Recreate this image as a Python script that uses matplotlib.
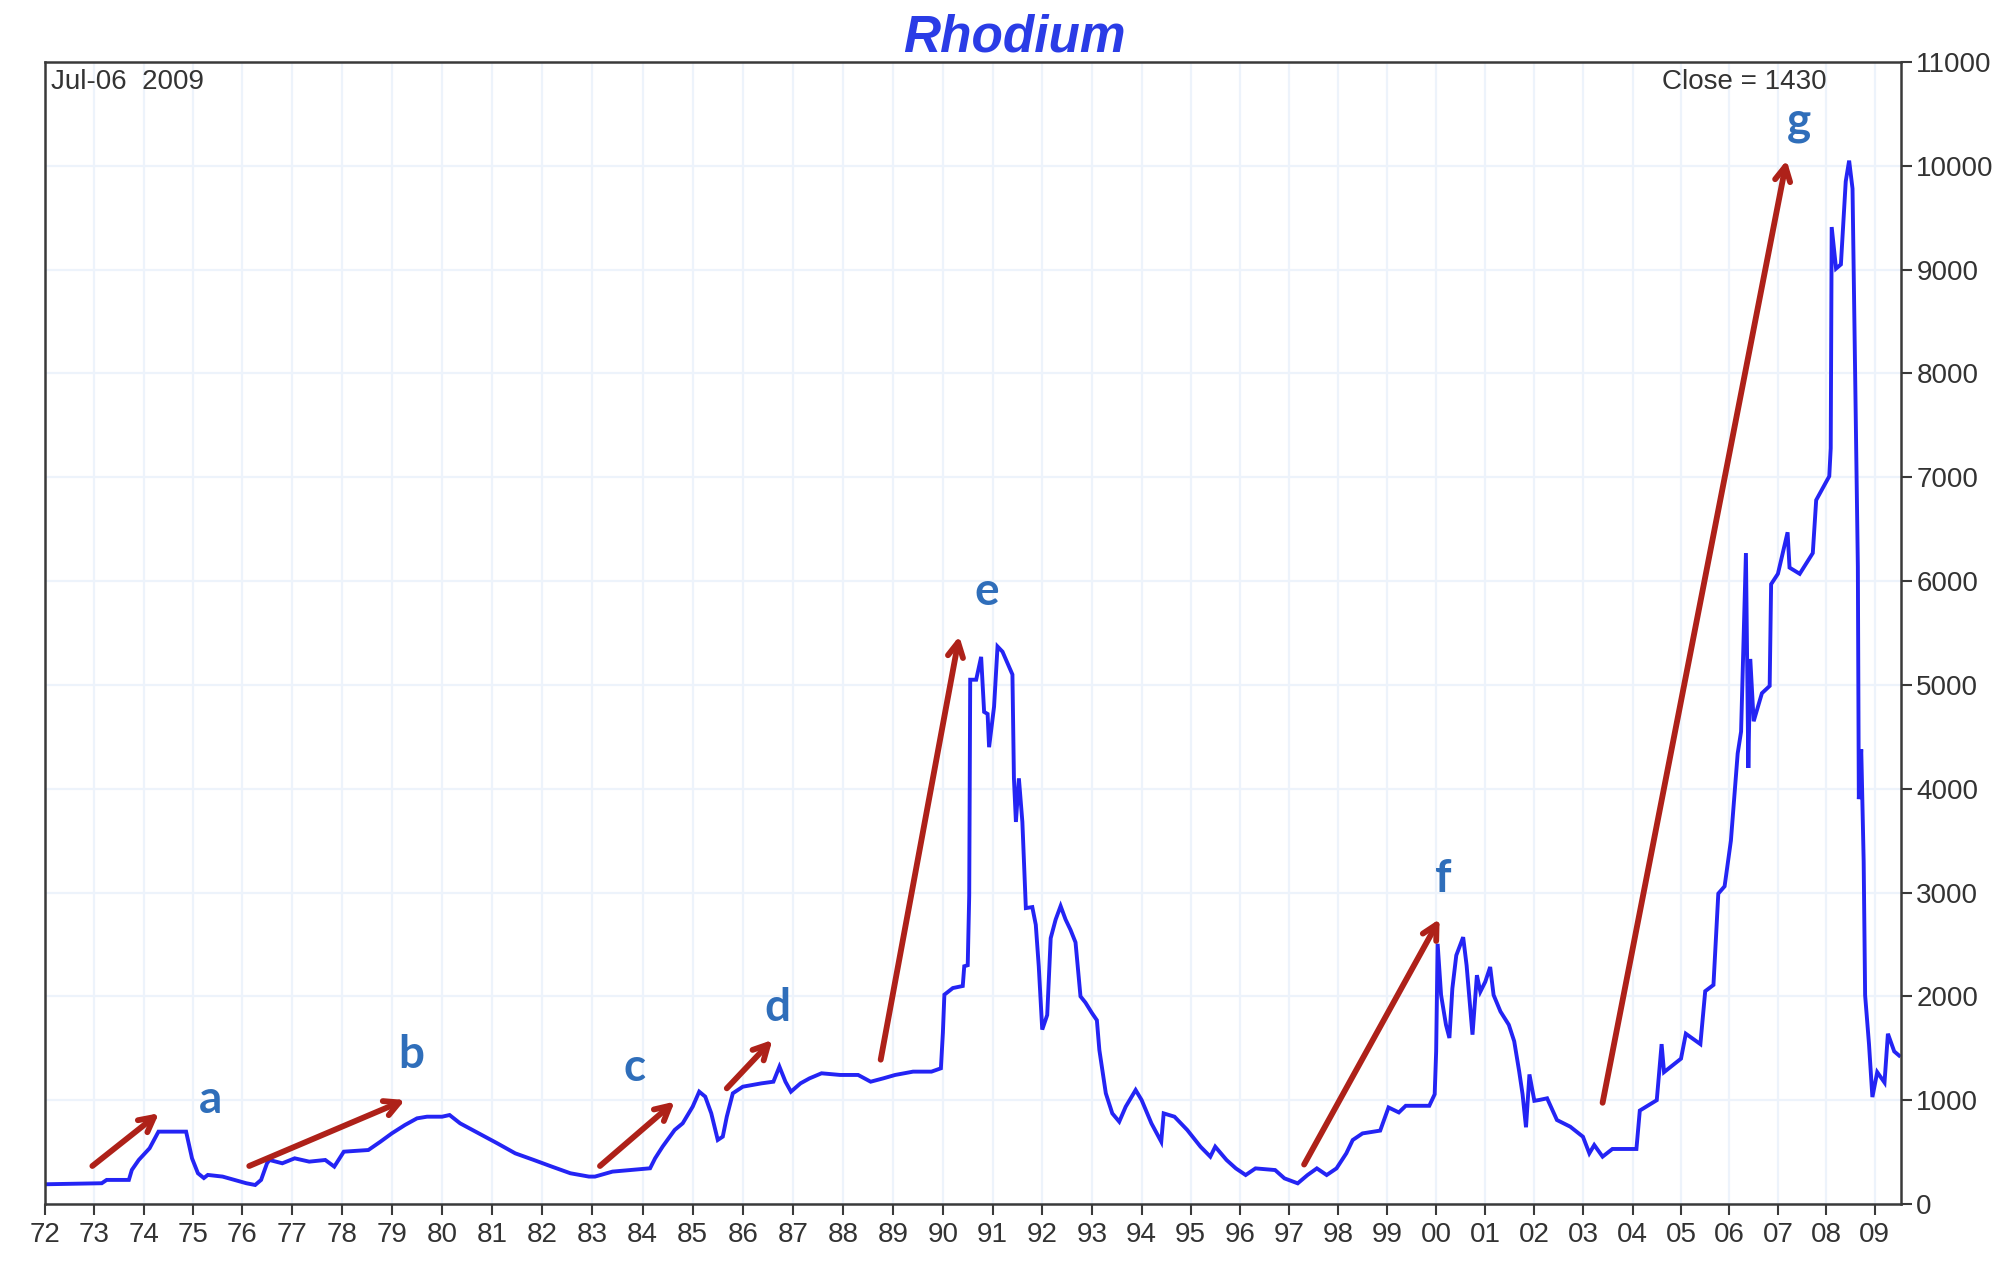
import matplotlib
matplotlib.use("Agg")
import numpy as np
import matplotlib.pyplot as plt
from matplotlib import font_manager

# Rhodium price (decimal year, USD/oz)
years = [
    1972.00, 1973.15, 1973.25, 1973.70, 1973.76, 1973.90, 1974.12, 1974.30, 1974.86, 1974.98,
    1975.10, 1975.22, 1975.30, 1975.60, 1975.84, 1976.08, 1976.26, 1976.38, 1976.50, 1976.55,
    1976.81, 1977.06, 1977.35, 1977.67, 1977.85, 1978.04, 1978.53, 1978.77, 1979.00, 1979.26,
    1979.50, 1979.70, 1980.00, 1980.15, 1980.36, 1980.73, 1981.10, 1981.46, 1981.83, 1982.19,
    1982.56, 1982.93, 1983.05, 1983.40, 1983.78, 1984.15, 1984.25, 1984.40, 1984.64, 1984.80,
    1985.00, 1985.13, 1985.25, 1985.37, 1985.50, 1985.60, 1985.68, 1985.80, 1986.00, 1986.37,
    1986.61, 1986.73, 1986.85, 1986.96, 1987.15, 1987.33, 1987.57, 1987.94, 1988.30, 1988.55,
    1988.80, 1989.04, 1989.40, 1989.77, 1989.96, 1990.00, 1990.03, 1990.20, 1990.40, 1990.43,
    1990.50, 1990.53, 1990.55, 1990.67, 1990.77, 1990.83, 1990.90, 1990.93, 1991.03, 1991.10,
    1991.20, 1991.30, 1991.40, 1991.43, 1991.47, 1991.53, 1991.60, 1991.67, 1991.80, 1991.87,
    1991.93, 1992.00, 1992.10, 1992.17, 1992.27, 1992.37, 1992.47, 1992.57, 1992.67, 1992.77,
    1992.87, 1993.00, 1993.10, 1993.15, 1993.28, 1993.41, 1993.55, 1993.68, 1993.88, 1994.00,
    1994.20, 1994.40, 1994.45, 1994.67, 1994.93, 1995.20, 1995.40, 1995.50, 1995.73, 1995.92,
    1996.12, 1996.32, 1996.72, 1996.91, 1997.18, 1997.38, 1997.57, 1997.77, 1997.97, 1998.17,
    1998.30, 1998.50, 1998.86, 1999.03, 1999.24, 1999.38, 1999.86, 1999.97, 2000.00, 2000.03,
    2000.10, 2000.20, 2000.27, 2000.33, 2000.41, 2000.55, 2000.62, 2000.74, 2000.83, 2000.90,
    2001.00, 2001.10, 2001.17, 2001.31, 2001.48, 2001.59, 2001.69, 2001.76, 2001.83, 2001.90,
    2002.00, 2002.10, 2002.26, 2002.46, 2002.73, 2002.99, 2003.12, 2003.22, 2003.39, 2003.59,
    2004.08, 2004.15, 2004.50, 2004.60, 2004.65, 2005.00, 2005.10, 2005.40, 2005.50, 2005.67,
    2005.77, 2005.90, 2006.03, 2006.17, 2006.24, 2006.34, 2006.39, 2006.43, 2006.50, 2006.67,
    2006.83, 2006.86, 2007.00, 2007.20, 2007.24, 2007.45, 2007.72, 2007.79, 2008.06, 2008.09,
    2008.11, 2008.20, 2008.30, 2008.40, 2008.47, 2008.54, 2008.60, 2008.65, 2008.67, 2008.72,
    2008.77, 2008.80, 2008.88, 2008.95, 2009.05, 2009.20, 2009.27, 2009.40, 2009.50,
]
prices = [
    190, 200, 232, 232, 328, 424, 537, 697, 697, 440,
    296, 250, 280, 264, 232, 200, 183, 232, 392, 424,
    392, 440, 408, 424, 360, 504, 520, 600, 681, 761,
    825, 841, 841, 857, 777, 681, 585, 488, 424, 360,
    296, 264, 264, 312, 328, 344, 440, 553, 713, 777,
    938, 1082, 1034, 874, 617, 649, 841, 1066, 1130, 1162,
    1178, 1323, 1178, 1082, 1162, 1210, 1259, 1243, 1243, 1178,
    1210, 1243, 1275, 1275, 1307, 1650, 2016, 2080, 2100, 2290,
    2300, 2970, 5050, 5050, 5270, 4740, 4720, 4400, 4790, 5370,
    5320, 5210, 5100, 4100, 3680, 4100, 3680, 2850, 2860, 2690,
    2290, 1680, 1820, 2560, 2740, 2870, 2740, 2640, 2520, 2000,
    1940, 1840, 1770, 1483, 1066, 873, 793, 937, 1098, 1002,
    777, 600, 873, 841, 713, 552, 456, 552, 424, 343,
    279, 343, 327, 247, 199, 279, 343, 279, 343, 488,
    616, 680, 707, 930, 882, 946, 946, 1057, 1471, 2506,
    2013, 1726, 1599, 2076, 2395, 2570, 2299, 1631, 2204, 2045,
    2140, 2283, 2013, 1854, 1726, 1567, 1280, 1057, 739, 1248,
    994, 1002, 1018, 809, 745, 648, 488, 568, 456, 530,
    530, 900, 1000, 1540, 1270, 1400, 1640, 1540, 2050, 2110,
    2990, 3060, 3500, 4340, 4550, 6270, 4200, 5250, 4650, 4920,
    4990, 5970, 6070, 6470, 6130, 6070, 6270, 6780, 7010, 7280,
    9410, 9010, 9050, 9850, 10050, 9780, 7760, 6140, 3900, 4380,
    3300, 2010, 1540, 1030, 1270, 1170, 1640, 1470, 1430,
]

# annotation arrows: label, start (year, price), tip (year, price), label position
arrow_labels = ["a", "b", "c", "d", "e", "f", "g"]
arrow_start = [(1972.96, 366), (1976.14, 366), (1983.15, 366), (1985.68, 1114),
               (1988.75, 1390), (1997.31, 380), (2003.39, 975)]
arrow_tip = [(1974.31, 874), (1979.26, 1002), (1984.64, 986), (1986.59, 1580),
             (1990.33, 5470), (2000.07, 2745), (2007.18, 10054)]
label_pos = [(1975.35, 1002), (1979.38, 1435), (1983.84, 1307), (1986.69, 1885),
             (1990.88, 5896), (2000.14, 3127), (2007.43, 10420)]

year_ticks = list(range(1972, 2010))
price_ticks = list(range(0, 11001, 1000))

# the source chart's time axis is slightly compressed toward the right;
# piecewise-linear mapping measured from its tick marks
scale_years = [1971, 1972, 1977, 1989, 1994, 2004, 2009, 2010]
scale_pos = [-4.3, 45, 291.7, 893.3, 1141.7, 1632.7, 1875, 1923.5]


def fwd(x):
    return np.interp(x, scale_years, scale_pos)


def inv(p):
    return np.interp(p, scale_pos, scale_years)


installed = {f.name for f in font_manager.fontManager.ttflist}
tick_font = "Liberation Sans Narrow" if "Liberation Sans Narrow" in installed else "Liberation Sans"

fig = plt.figure(figsize=(20.13, 12.65), dpi=100)
ax = fig.add_axes([45 / 2013, 61 / 1265, (1901 - 45) / 2013, (1204 - 62) / 1265])
ax.set_xscale("function", functions=(fwd, inv))

ax.plot(years, prices, color="#2424F4", lw=2.8, solid_joinstyle="miter")

ax.set_xlim(1972, 2009.54)
ax.set_ylim(0, 11000)
ax.set_xticks(year_ticks)
ax.set_xticklabels([str(y)[2:] for y in year_ticks])
ax.xaxis.set_minor_locator(matplotlib.ticker.NullLocator())
ax.set_yticks(price_ticks)
ax.yaxis.tick_right()

ax.grid(True, color="#EDF3FB", lw=1.6)
ax.set_axisbelow(True)
for s in ax.spines.values():
    s.set_color("#3a3a3a")
    s.set_linewidth(1.8)

ax.tick_params(axis="both", direction="out", length=8, width=1.5, color="#3a3a3a",
               labelsize=20, labelcolor="#333333")
ax.tick_params(axis="x", pad=5)
ax.tick_params(axis="y", pad=3)
for lab in ax.get_xticklabels() + ax.get_yticklabels():
    lab.set_family(tick_font)

ax.text(0.003, 0.9825, "Jul-06  2009", transform=ax.transAxes, ha="left", va="center",
        fontsize=20, color="#333333", family=tick_font)
ax.text(0.960, 0.9825, "Close = 1430", transform=ax.transAxes, ha="right", va="center",
        fontsize=20, color="#333333", family=tick_font)

fig.text(0.504, 0.9696, "Rhodium", ha="center", va="center", fontsize=37,
         fontweight="bold", fontstyle="italic", color="#2A3CE6", family="Liberation Sans")

for lab, p0, p1, pl in zip(arrow_labels, arrow_start, arrow_tip, label_pos):
    ax.annotate("", xy=p1, xytext=p0,
                arrowprops=dict(arrowstyle="->,head_length=1.05,head_width=0.55",
                                color="#AE2119", lw=4.2, shrinkA=0, shrinkB=0))
    ax.text(pl[0], pl[1], lab, ha="center", va="center", fontsize=33,
            fontweight="bold", color="#2F6EBA", family="Lato")

fig.savefig("out.png", dpi=100)
